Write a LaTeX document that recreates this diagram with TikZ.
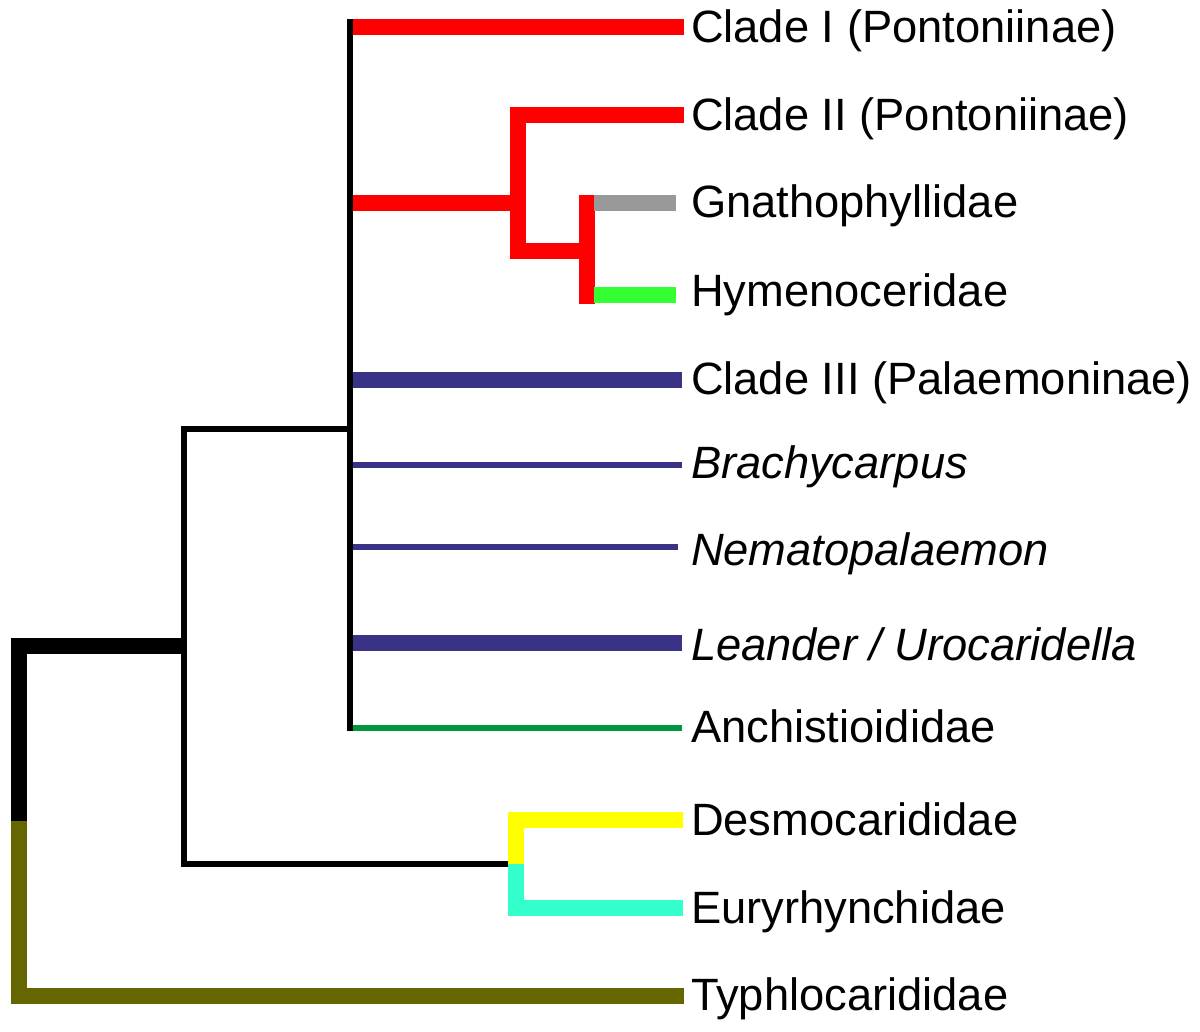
\documentclass[tikz,border=0pt]{standalone}
\usepackage{fontspec}
\setmainfont{Liberation Sans}
\definecolor{cred}{HTML}{FF0000}
\definecolor{cgray}{HTML}{999999}
\definecolor{clime}{HTML}{33FF33}
\definecolor{cnavy}{HTML}{3A3287}
\definecolor{cgreen}{HTML}{00963F}
\definecolor{cyell}{HTML}{FFFF00}
\definecolor{caqua}{HTML}{33FFCC}
\definecolor{colive}{HTML}{666600}
\tikzset{
  thickbr/.style={line width=16pt, line cap=butt, line join=miter},
  thinbr/.style={line width=6pt, line cap=butt, line join=miter},
  taxon/.style={anchor=base west, inner sep=0pt, outer sep=0pt, font=\fontsize{45.3}{50}\selectfont},
}
\begin{document}
\begin{tikzpicture}[x=1pt,y=-1pt]
\useasboundingbox (0,0) rectangle (1200,1032);
% internal coordinates
\coordinate (rsplit) at (18.5,821);
\coordinate (rtop) at (18.5,646);
\coordinate (rbot) at (18.5,996);
\coordinate (nA) at (184,646);
\coordinate (nAtop) at (184,429);
\coordinate (nAbot) at (184,864);
\coordinate (nB) at (350,429);
\coordinate (nBtop) at (350,19);
\coordinate (nBbot) at (350,731);
\coordinate (nC) at (516,864);
\coordinate (nCend) at (508,864);
\coordinate (nCtop) at (516,820);
\coordinate (nCbot) at (516,908);
\coordinate (nD) at (350,203);
\coordinate (nDj) at (518,203);
\coordinate (nDtop) at (518,115);
\coordinate (nDbot) at (518,251);
\coordinate (nE) at (586.5,251);
\coordinate (nEtop) at (586.5,195);
\coordinate (nEbot) at (586.5,304);
% tips
\coordinate (s1) at (350,27);   \coordinate (t1) at (684,27);
\coordinate (t2) at (684,115);
\coordinate (s3) at (594,203);  \coordinate (t3) at (676,203);
\coordinate (s4) at (594,295.5);\coordinate (t4) at (676,295.5);
\coordinate (s5) at (350,380);  \coordinate (t5) at (682,380);
\coordinate (s6) at (350,465);  \coordinate (t6) at (682,465);
\coordinate (s7) at (350,547);  \coordinate (t7) at (678,547);
\coordinate (s8) at (350,643);  \coordinate (t8) at (682,643);
\coordinate (s9) at (350,728);  \coordinate (t9) at (682,728);
\coordinate (t10) at (683,820);
\coordinate (t11) at (683,908);
\coordinate (t12) at (684,996);
% labels
\node[taxon] (L1) at (691,43) {Clade I (Pontoniinae)};
\node[taxon] (L2) at (691,131) {Clade II (Pontoniinae)};
\node[taxon] (L3) at (691,218) {Gnathophyllidae};
\node[taxon] (L4) at (691,307) {Hymenoceridae};
\node[taxon] (L5) at (691,395) {Clade III (Palaemoninae)};
\node[taxon] (L6) at (691,478) {\itshape Brachycarpus};
\node[taxon] (L7) at (691,565) {\itshape Nematopalaemon};
\node[taxon] (L8) at (691,660) {\itshape Leander / Urocaridella};
\node[taxon] (L9) at (691,742) {Anchistioididae};
\node[taxon] (L10) at (691,835) {Desmocarididae};
\node[taxon] (L11) at (691,923) {Euryrhynchidae};
\node[taxon] (L12) at (691,1010) {Typhlocarididae};
% black backbone
\draw[thickbr, black] (rsplit) -- (rtop) -- (nA);
\draw[thickbr, colive] (rsplit) -- (rbot) -- (t12);
\draw[thinbr, black] (nB) -- (nAtop) -- (nAbot) -- (nCend);
% coloured branches
\draw[thickbr, cred] (s1) -- (t1);
\draw[thickbr, cred] (nD) -- (nDj);
\draw[thickbr, cred] (t2) -- (nDtop) -- (nDbot) -- (nE);
\draw[thickbr, cred] (nEtop) -- (nEbot);
\draw[thickbr, cgray] (s3) -- (t3);
\draw[thickbr, clime] (s4) -- (t4);
\draw[thickbr, cnavy] (s5) -- (t5);
\draw[thinbr, cnavy] (s6) -- (t6);
\draw[thinbr, cnavy] (s7) -- (t7);
\draw[thickbr, cnavy] (s8) -- (t8);
\draw[thinbr, cgreen] (s9) -- (t9);
\draw[thickbr, cyell] (nC) -- (nCtop) -- (t10);
\draw[thickbr, caqua] (nC) -- (nCbot) -- (t11);
% vertical of node B on top
\draw[thinbr, black] (nBtop) -- (nBbot);
\end{tikzpicture}
\end{document}
